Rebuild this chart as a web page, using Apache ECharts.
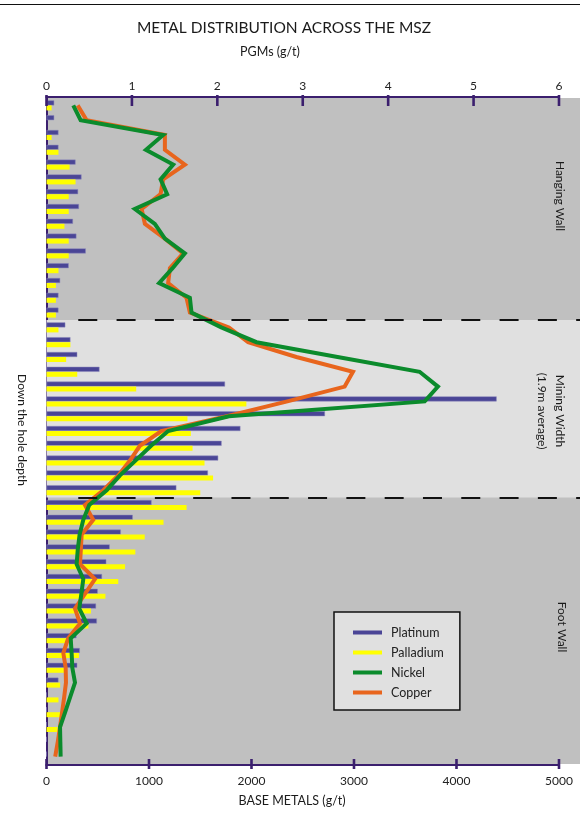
<!DOCTYPE html>
<html><head><meta charset="utf-8">
<script src="https://cdn.jsdelivr.net/npm/echarts@6/dist/echarts.min.js"></script>
<style>html,body{margin:0;padding:0;background:#fff}#c{width:580px;height:819px}</style>
</head><body><div id="c"></div>
<script>
// ---- data ----
const samples = ['1','2','3','4','5','6','7','8','9','10','11','12','13','14','15','16','17','18','19','20','21','22','23','24','25','26','27','28','29','30','31','32','33','34','35','36','37','38','39','40','41','42','43','44','45'];
const platinum = [0.09,0.09,0.14,0.14,0.34,0.41,0.37,0.38,0.31,0.35,0.46,0.26,0.16,0.14,0.14,0.22,0.28,0.36,0.62,2.09,5.27,3.26,2.27,2.05,2.01,1.89,1.52,1.23,1.01,0.87,0.74,0.70,0.65,0.60,0.58,0.59,0.35,0.39,0.36,0.14,0,0,0,0,0];
const palladium = [0.06,0,0.06,0.14,0.27,0.34,0.26,0.26,0.21,0.26,0.26,0.14,0.11,0.11,0.11,0.14,0.28,0.23,0.36,1.05,2.34,1.65,1.69,1.71,1.85,1.95,1.80,1.64,1.37,1.15,1.04,0.92,0.84,0.69,0.52,0.49,0.25,0.38,0.22,0.16,0.14,0.16,0.13,0,0];
const nickel = [261,333,1138,970,1236,1113,1177,862,1057,1155,1350,1230,1099,1399,1415,1705,2049,2840,3640,3819,3690,1780,1187,1020,868,717,587,417,359,323,305,294,359,340,320,392,236,245,252,278,230,182,132,135,138];
const copper = [304,392,1155,1155,1350,1138,1113,928,960,1155,1333,1204,1187,1366,1399,1780,1967,2438,2990,2909,2350,1760,1120,911,814,700,554,375,456,343,335,327,473,375,278,327,212,164,187,190,172,152,132,110,85];
const pgmTicks = [0,1,2,3,4,5,6];
const baseTicks = [0,1000,2000,3000,4000,5000];
const zoneBounds = [15, 27];   // sample boundaries of the mining width
const pgmAxisMax = 6.246, baseAxisMax = 5205;

const FONT = 'Lato';
const PURPLE = '#3b1f6e';
const chart = echarts.init(document.getElementById('c'), null, {renderer:'canvas'});

chart.setOption({
  animation:false,
  textStyle:{fontFamily:FONT},
  grid:{left:46.5, right:0, top:98, bottom:55, show:true, backgroundColor:'#c0c0c0', borderWidth:0},
  legend:{
    orient:'vertical', left:334, top:612,
    padding:[14,16,11,19], backgroundColor:'#e0e0e0', borderColor:'#111', borderWidth:1.5,
    itemWidth:29, itemHeight:4, itemGap:7, icon:'rect',
    itemStyle:{borderWidth:0},
    textStyle:{fontFamily:FONT, fontSize:12.5, color:'#222', padding:[0,0,0,4]},
    data:['Platinum','Palladium','Nickel','Copper']
  },
  xAxis:[
    {type:'value', position:'top', min:0, max:pgmAxisMax,
     axisLine:{show:false}, axisTick:{show:false}, splitLine:{show:false},
     axisLabel:{customValues:pgmTicks, margin:6, fontFamily:FONT, fontSize:12, color:'#222', formatter:v=>String(v)}},
    {type:'value', position:'bottom', min:0, max:baseAxisMax,
     axisLine:{show:false}, axisTick:{show:false}, splitLine:{show:false},
     axisLabel:{customValues:baseTicks, margin:11, fontFamily:FONT, fontSize:12, color:'#222', formatter:v=>String(v)}}
  ],
  yAxis:[
    {type:'category', data:samples, inverse:true, boundaryGap:true,
     axisLine:{show:true, lineStyle:{color:PURPLE, width:2}}, axisTick:{show:false}, axisLabel:{show:false}},
    {type:'value', min:0, max:samples.length, inverse:true, show:false}
  ],
  series:[
    {type:'line', name:'zones', xAxisIndex:0, yAxisIndex:1, data:[], silent:true,
     markArea:{silent:true, itemStyle:{color:'#e0e0e0'}, data:[[{yAxis:zoneBounds[0]},{yAxis:zoneBounds[1]}]]},
     markLine:{silent:true, symbol:'none', label:{show:false},
       lineStyle:{color:'#111', width:2, type:[19,19.3]},
       data:[
         [{coord:[0.372, zoneBounds[0]]},{coord:[pgmAxisMax, zoneBounds[0]]}],
         [{coord:[0.372, zoneBounds[1]]},{coord:[pgmAxisMax, zoneBounds[1]]}]
       ]}},
    {type:'bar', name:'Platinum', xAxisIndex:0, yAxisIndex:0, data:platinum,
     barWidth:5, barGap:'0%', itemStyle:{color:'#4a4596', borderColor:'#8d89bd', borderWidth:0.5}},
    {type:'bar', name:'Palladium', xAxisIndex:0, yAxisIndex:0, data:palladium,
     barWidth:5, barGap:'0%', itemStyle:{color:'#ffff00'}},
    {type:'line', name:'Copper', xAxisIndex:1, yAxisIndex:0, data:copper, symbol:'none',
     itemStyle:{color:'#e8651d'}, lineStyle:{color:'#e8651d', width:4, join:'miter', miterLimit:6}},
    {type:'line', name:'Nickel', xAxisIndex:1, yAxisIndex:0, data:nickel, symbol:'none',
     itemStyle:{color:'#0b8b2c'}, lineStyle:{color:'#0b8b2c', width:4, join:'miter', miterLimit:6}}
  ]
});

// axis lines, crossing ticks and free texts
const yTop = chart.convertToPixel({yAxisIndex:1}, 0);
const yBot = chart.convertToPixel({yAxisIndex:1}, samples.length);
const px0 = chart.convertToPixel({xAxisIndex:0}, pgmTicks[0]);
const px6 = chart.convertToPixel({xAxisIndex:0}, pgmTicks[pgmTicks.length-1]);
const bx0 = chart.convertToPixel({xAxisIndex:1}, baseTicks[0]);
const bx5 = chart.convertToPixel({xAxisIndex:1}, baseTicks[baseTicks.length-1]);
const g = [];
const ln = (x1,y1,x2,y2,w)=>({type:'line', z:100, shape:{x1,y1,x2,y2}, style:{stroke:PURPLE, lineWidth:w}});
g.push(ln(px0-1, yTop-1, px6+1, yTop-1, 2));
g.push(ln(bx0-1, yBot+1, bx5+1, yBot+1, 2));
pgmTicks.forEach(v=>{const x=chart.convertToPixel({xAxisIndex:0}, v); g.push(ln(x, yTop-3, x, yTop+8, 2.6));});
baseTicks.forEach(v=>{const x=chart.convertToPixel({xAxisIndex:1}, v); g.push(ln(x, yBot-5, x, yBot+5, 2.6));});
const txt = (t,x,y,fs,rot)=>({type:'text', z:100, x, y, rotation:rot||0,
  style:{text:t, fontFamily:FONT, fontSize:fs, fill:'#1a1a1a', align:'center', verticalAlign:'middle', lineHeight:18}});
g.push(txt('METAL DISTRIBUTION ACROSS THE MSZ', 284, 28, 15.5));
g.push(txt('PGMs (g/t)', 270, 52, 12.5));
g.push(txt('BASE METALS (g/t)', 292, 801, 12.5));
g.push(txt('Down the hole depth', 22, 430, 12, -Math.PI/2));
g.push(txt('Hanging Wall', 560, 196, 12, -Math.PI/2));
g.push(txt('Mining Width\n(1.9m average)', 551, 411, 12, -Math.PI/2));
g.push(txt('Foot Wall', 562, 627, 12, -Math.PI/2));
g.push({type:'line', z:100, shape:{x1:0,y1:4.5,x2:580,y2:4.5}, style:{stroke:'#111', lineWidth:1.2}});
chart.setOption({graphic:g});
</script></body></html>
